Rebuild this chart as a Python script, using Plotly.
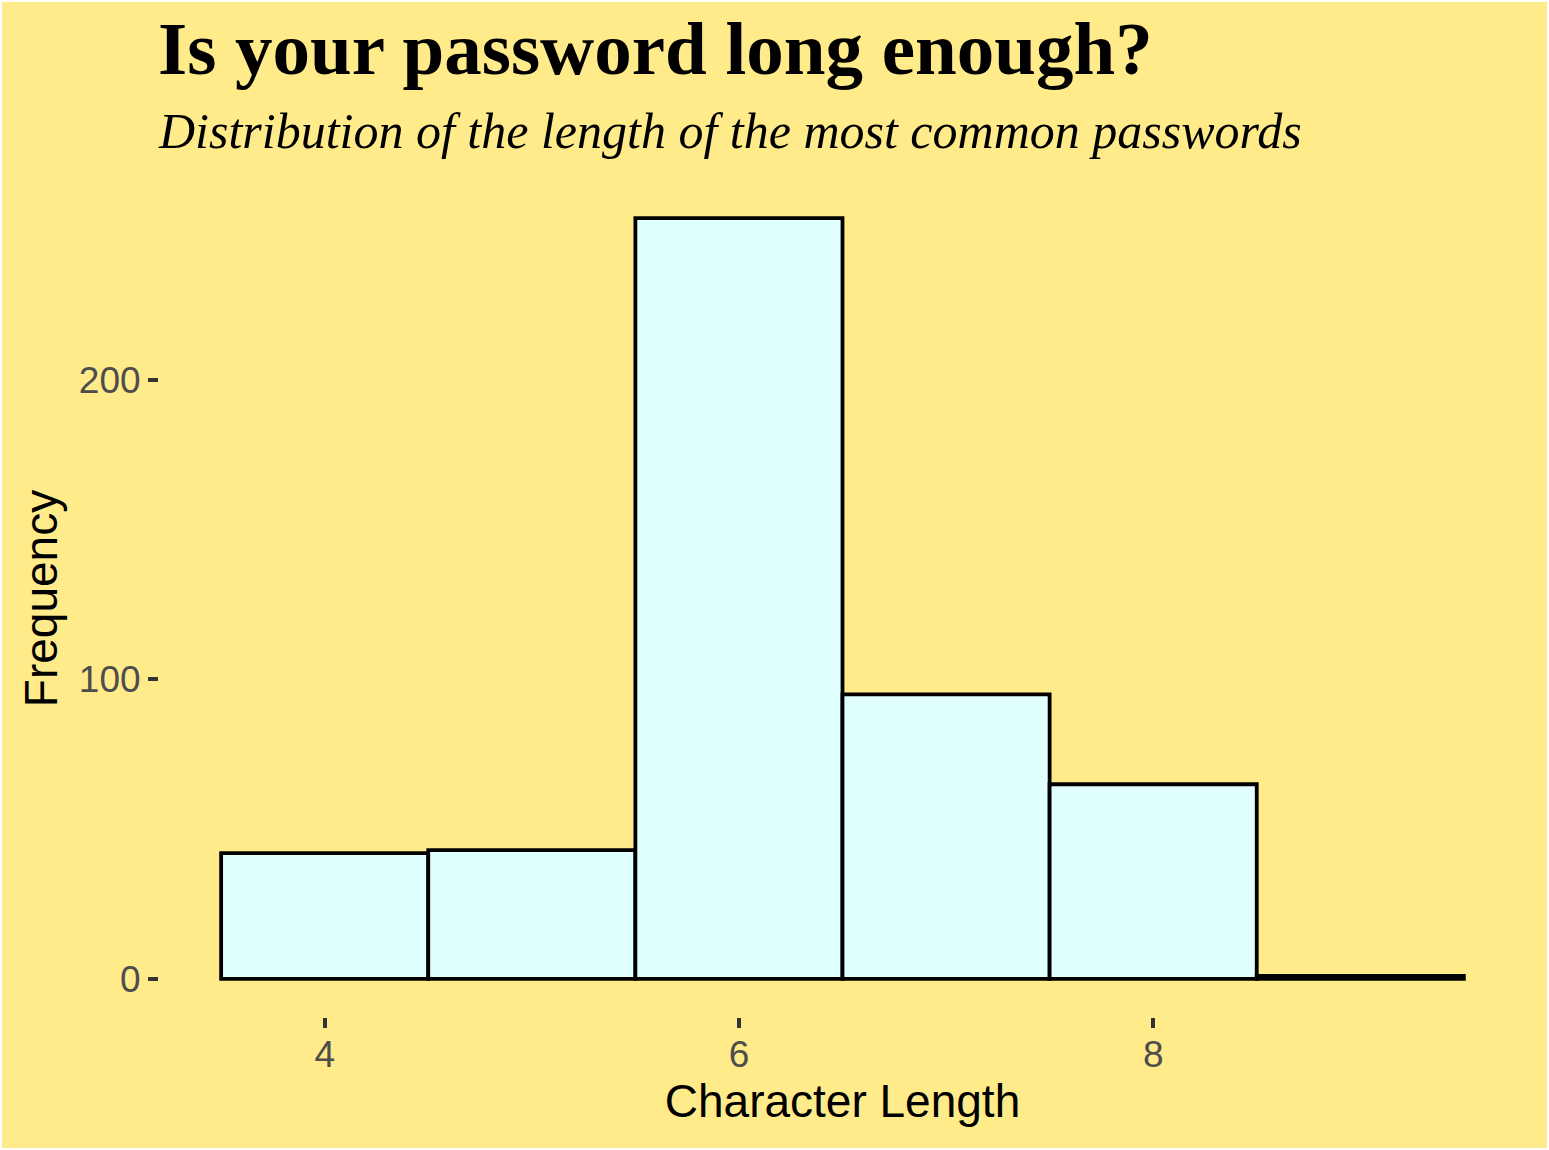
import plotly.graph_objects as go

lengths = [4, 5, 6, 7, 8, 9]
counts = [42, 43, 254, 95, 65, 1]
x_ticks = [4, 6, 8]
y_ticks = [0, 100, 200]

title = "Is your password long enough?"
subtitle = "Distribution of the length of the most common passwords"

BG = "#FFEB8A"

fig = go.Figure(go.Bar(
    x=lengths, y=counts, width=1,
    marker=dict(color="#E0FFFF", line=dict(color="black", width=3.8)),
))

fig.update_layout(
    width=1545, height=1146,
    margin=dict(l=157, r=21, t=178, b=131),
    paper_bgcolor=BG, plot_bgcolor=BG,
    showlegend=False,
    font=dict(family="Liberation Sans, Arial, sans-serif", color="black"),
    annotations=[
        dict(text="<b>" + title + "</b>", xref="paper", yref="paper", x=-0.002, y=1.157,
             xanchor="left", yanchor="middle", showarrow=False,
             font=dict(family="Liberation Serif, Times New Roman, serif", size=75, color="black")),
        dict(text="<i>" + subtitle + "</i>", xref="paper", yref="paper", x=-0.002, y=1.0585,
             xanchor="left", yanchor="middle", showarrow=False,
             font=dict(family="Liberation Serif, Times New Roman, serif", size=50, color="black")),
    ],
)

fig.update_xaxes(
    range=[3.2, 9.8], tickvals=x_ticks, showgrid=False, zeroline=False, showline=False,
    ticks="outside", ticklen=10, tickwidth=3.5, tickcolor="#333333",
    tickfont=dict(size=37, color="#4D4D4D"), ticklabelstandoff=-5,
    title=dict(text="Character Length", font=dict(size=46, color="black"), standoff=8),
)
fig.update_yaxes(
    range=[-12.7, 266.7], tickvals=y_ticks, showgrid=False, zeroline=False, showline=False,
    ticks="outside", ticklen=10, tickwidth=3.5, tickcolor="#333333",
    tickfont=dict(size=37, color="#4D4D4D"),
    title=dict(text="Frequency", font=dict(size=46, color="black"), standoff=6),
)

fig.write_html("out.html", post_script="document.body.style.margin='2px';")
